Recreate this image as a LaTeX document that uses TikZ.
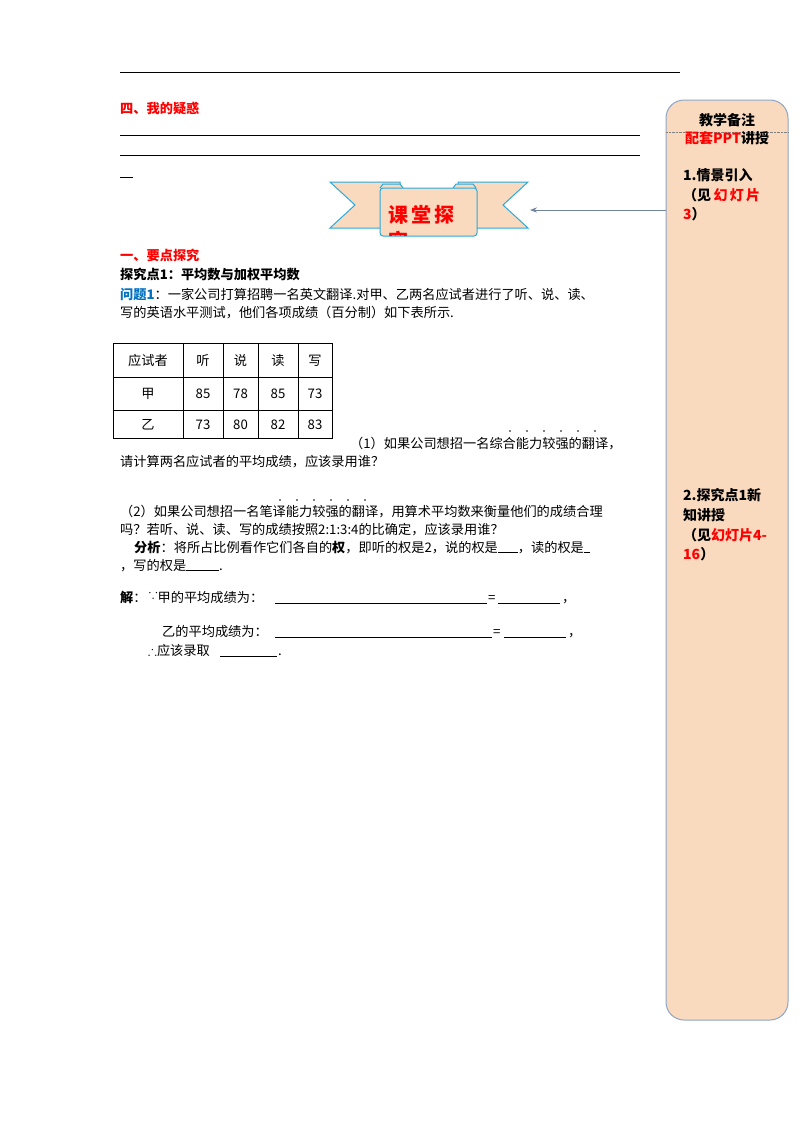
\documentclass[tikz,border=0pt]{standalone}
\usepackage{amssymb}
\usepackage{fontspec}
\setmainfont{Noto Sans CJK SC}
\usetikzlibrary{arrows.meta}
\definecolor{peach}{RGB}{250,218,190}
\definecolor{edge}{RGB}{140,165,200}
\definecolor{ribbon}{RGB}{40,170,220}
\definecolor{qblue}{RGB}{0,112,192}
\begin{document}
\begin{tikzpicture}[x=1pt,y=-1pt,
  t/.style={anchor=base west,inner sep=0,font=\fontsize{13.2}{15}\selectfont},
  r/.style={t,text=red,font=\fontsize{13.2}{15}\selectfont\bfseries},
  s/.style={t,font=\fontsize{14}{16}\selectfont\bfseries},
  ul/.style={line width=0.6pt}]
\useasboundingbox (0,0) rectangle (800,1132);
\fill[white] (0,0) rectangle (800,1132);
% sidebar
\draw[edge,fill=peach,line width=1pt,rounded corners=18] (666,100) rectangle (788,1020);
\draw[gray,densely dotted] (666,132) -- (788,132);
\node[s,anchor=base] (h1) at (727,125) {教学备注};
\node[s,anchor=base] (h2) at (727,143) {\textcolor{red}{配套PPT}讲授};
\node[s] (a1) at (683,180) {1.情景引入};
\node[s] (a2) at (683,200) {（见\,\textcolor{red}{幻\,灯\,片}};
\node[s] (a3) at (683,219) {\textcolor{red}{3}）};
\node[s] (b1) at (683,500) {2.探究点1新};
\node[s] (b2) at (683,520) {知讲授};
\node[s] (b3) at (683,540) {（见\textcolor{red}{幻灯片4-}};
\node[s] (b4) at (683,559) {\textcolor{red}{16}）};
% top lines
\draw[ul] (120,72) -- (680,72);
\node[r] (q4) at (120,113) {四、我的疑惑};
\draw[ul] (120,135) -- (640,135);
\draw[ul] (120,155) -- (640,155);
\draw[ul] (120,177) -- (133,177);
% banner
\draw[ribbon,fill=peach,line width=1pt] (330,182) -- (400,182) -- (400,228) -- (330,228) -- (355,205) -- cycle;
\draw[ribbon,fill=peach,line width=1pt] (458,182) -- (528,182) -- (503,205) -- (528,228) -- (458,228) -- cycle;
\draw[ribbon,fill=peach,line width=1pt] (380,188) -- (383,184) -- (400,184) -- (403,188);
\draw[ribbon,fill=peach,line width=1pt] (453,188) -- (456,184) -- (473,184) -- (476,188);
\draw[ribbon,fill=peach,line width=1pt,rounded corners=3] (380,188) rectangle (477,236);
\begin{scope}
\clip (381,189) rectangle (476,235);
\node[anchor=base west,inner sep=0,text=red,font=\fontsize{20}{22}\selectfont\bfseries] (bt) at (388,222) {课\,堂\,探};
\node[anchor=base west,inner sep=0,text=red,font=\fontsize{20}{22}\selectfont\bfseries] (bt2) at (388,248) {究};
\end{scope}
\coordinate (bn) at (530,210);
\coordinate (sb) at (666,210);
\draw[edge!80!black,line width=1pt,-{Stealth[length=7pt]}] (sb) -- (bn);
% section
\node[r] (s1) at (120,260) {一、要点探究};
\node[t,font=\fontsize{13.2}{15}\selectfont\bfseries] (s2) at (120,279) {探究点1：平均数与加权平均数};
\node[t] (p1) at (120,299) {\textcolor{qblue}{\bfseries 问题1}：一家公司打算招聘一名英文翻译.对甲、乙两名应试者进行了听、说、读、};
\node[t] (p2) at (120,317) {写的英语水平测试，他们各项成绩（百分制）如下表所示.};
% table
\draw[line width=0.7pt] (113,343) rectangle (332,438);
\foreach \y in {377,410} \draw[line width=0.7pt] (113,\y) -- (332,\y);
\foreach \x in {183,223,258,298} \draw[line width=0.7pt] (\x,343) -- (\x,438);
\foreach \x/\a/\b/\c [count=\i] in {148/应试者/甲/乙,203/听/85/73,240.5/说/78/80,278/读/85/82,315/写/73/83}{
  \node[t,anchor=base] (c\i a) at (\x,365) {\a};
  \node[t,anchor=base] (c\i b) at (\x,398) {\b};
  \node[t,anchor=base] (c\i c) at (\x,429) {\c};
}
% questions
\node[t] (q1) at (350,448) {（1）如果公司想招一名综合能力较强的翻译，};
\foreach \x in {510,527,544,561,578,595} \fill (\x,431) circle (0.9);
\node[t] (q1b) at (120,466) {请计算两名应试者的平均成绩，应该录用谁？};
\foreach \x in {280,297,314,331,348,365} \fill (\x,500) circle (0.9);
\node[t] (q2) at (120,516) {（2）如果公司想招一名笔译能力较强的翻译，用算术平均数来衡量他们的成绩合理};
\node[t] (q2b) at (120,534) {吗？若听、说、读、写的成绩按照2:1:3:4的比确定，应该录用谁？};
\node[t] (an) at (134,552) {\textbf{分析}：将所占比例看作它们各自的\textbf{权}，即听的权是2，说的权是\rule[-1pt]{20pt}{0.6pt}，读的权是\rule[-1pt]{6pt}{0.6pt}};
\node[t] (an2) at (120,570) {，写的权是\rule[-1pt]{33pt}{0.6pt}.};
\node[t] (j1) at (120,602) {\textbf{解}：\,\raisebox{4pt}{$\because$}甲的平均成绩为：};
\draw[ul] (275,603) -- (487,603); \node[t] (e1) at (488,602) {=};
\draw[ul] (498,603) -- (560,603); \node[t] (k1) at (562,602) {，};
\node[t] (j2) at (162,636) {乙的平均成绩为：};
\draw[ul] (275,637) -- (492,637); \node[t] (e2) at (493,636) {=};
\draw[ul] (504,637) -- (566,637); \node[t] (k2) at (568,636) {，};
\node[t] (j3) at (148,655) {$\therefore$应该录取};
\draw[ul] (220,656) -- (277,656); \node[t] (d3) at (278,655) {.};
\end{tikzpicture}
\end{document}
